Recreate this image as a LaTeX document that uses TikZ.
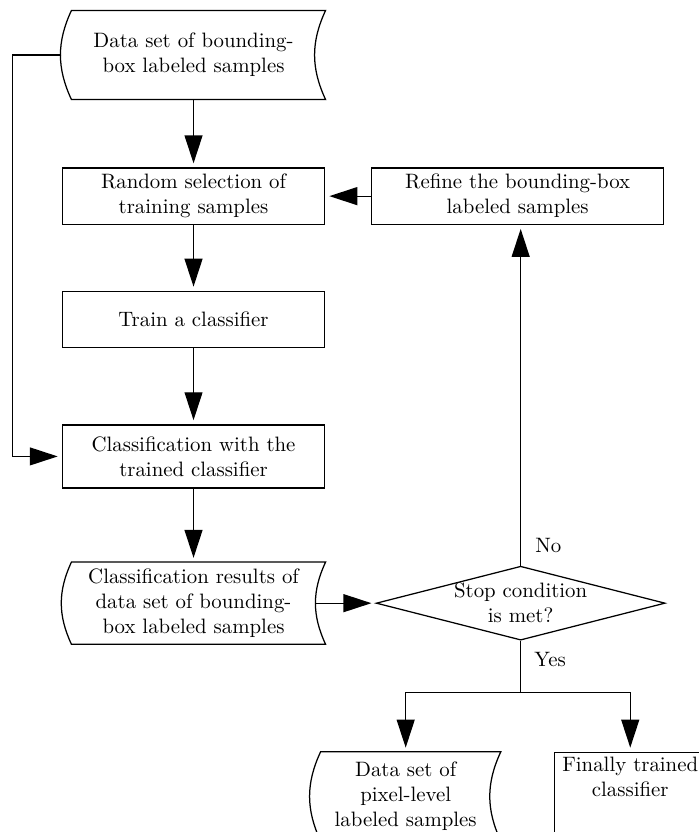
\documentclass[tikz,border=0pt]{standalone}
\usetikzlibrary{arrows.meta,positioning,shapes.geometric,calc}

% outline of a stored-data node (curved left and right sides)
\newcommand{\storeoutline}[1]{%
  \draw ([xshift=4.8pt]#1.north west) -- (#1.north east)
    to[out=-115,in=115] (#1.south east) -- ([xshift=4.8pt]#1.south west)
    to[out=115,in=-115] ([xshift=4.8pt]#1.north west) -- cycle;}

\begin{document}
\begin{tikzpicture}[
    line width=0.6pt,
    box/.style={draw, minimum width=125.8pt, minimum height=26.9pt, align=center, inner sep=2pt},
    store/.style={minimum width=126.2pt, minimum height=42.2pt, align=center, inner sep=2pt},
    decision/.style={draw, diamond, aspect=3.9, minimum width=138.7pt, minimum height=35.5pt,
                     inner sep=-4pt, align=center},
    arr/.style={-{Triangle[length=13.4pt,width=8.6pt]}, shorten >=2pt},
    lbl/.style={anchor=west},
]
  \useasboundingbox (0,0) rectangle (335.5pt,-399.4pt);
  \clip (0,0) rectangle (335.5pt,-399.4pt);

  % Main column
  \node[store] (source) at (92.9pt,-26.4pt) {Data set of bounding-\\box labeled samples};
  \node[box, below=32.6pt of source] (select) {Random selection of\\training samples};
  \node[box, below=31.7pt of select] (train) {Train a classifier};
  \node[box, minimum height=30.2pt, below=36.6pt of train] (classify) {Classification with the\\trained classifier};
  \node[store, minimum height=38.9pt, below=35.3pt of classify] (results) {Classification results of\\data set of bounding-\\box labeled samples};

  % Right column
  \node[decision, right=24pt of results] (stop) {Stop condition\\is met?};
  \node[box, minimum width=140.2pt, right=22pt of select] (refine) {Refine the bounding-box\\labeled samples};

  % Outputs
  \node[store, minimum width=90.7pt, below=53.3pt of stop.south, xshift=-55.2pt] (pixel) {Data set of\\pixel-level\\labeled samples};
  \node[box, minimum width=73pt, minimum height=42.2pt, text depth=24.5pt,
        below=53.3pt of stop.south, xshift=52.6pt] (final) {Finally trained\\classifier};

  \storeoutline{source}
  \storeoutline{results}
  \storeoutline{pixel}

  % Arrows
  \draw[arr] (source) -- (select);
  \draw[arr] (select) -- (train);
  \draw[arr] (train) -- (classify);
  \draw[arr] (classify) -- (results);
  \draw[arr] (source.west) -- ++(-23.5pt,0) |- (classify);
  \draw[arr] ([xshift=-5.2pt]results.east) -- (stop);
  \draw[arr] (stop) -- (stop |- refine.south);
  \draw[arr] (refine) -- (select);
  \draw (stop.south) -- ++(0,-25pt) coordinate (fork);
  \draw[arr] (fork) -| (pixel);
  \draw[arr] (fork) -| (final);

  % Branch labels
  \node[lbl] (no) at ([shift={(3.4pt,9.6pt)}]stop.north) {No};
  \node[lbl] (yes) at ([shift={(3pt,-9.1pt)}]stop.south) {Yes};
\end{tikzpicture}
\end{document}
